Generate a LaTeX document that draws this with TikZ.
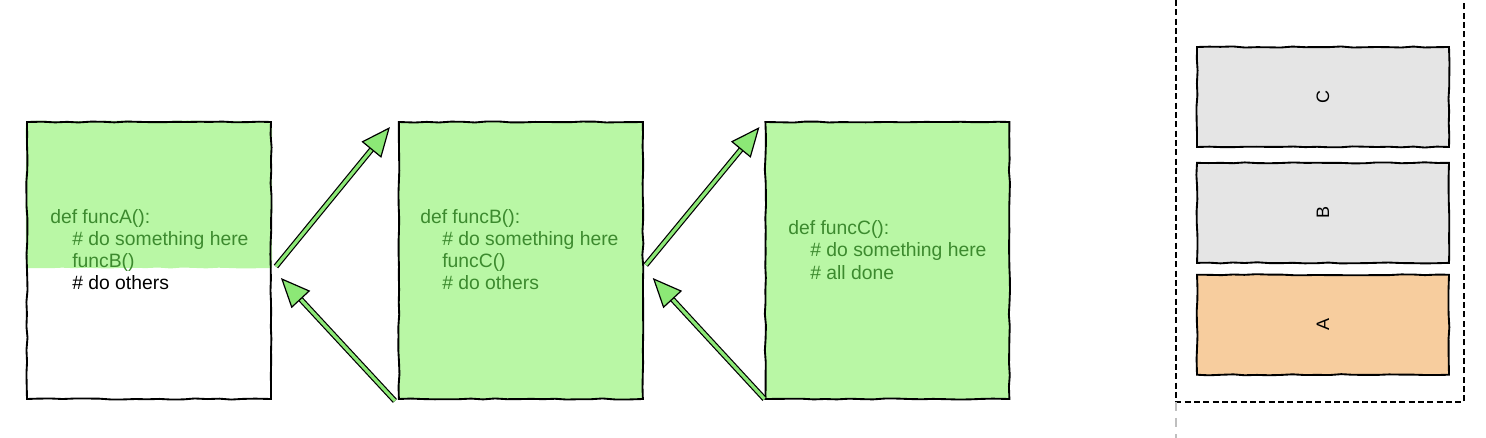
\documentclass[tikz,border=0pt]{standalone}
\usepackage{fontspec}
\setmainfont{Liberation Sans}
\usetikzlibrary{positioning, arrows.meta, decorations.pathmorphing, backgrounds}
\definecolor{codegreen}{RGB}{185,247,165}
\definecolor{arrowgreen}{RGB}{140,232,118}
\definecolor{textgreen}{RGB}{60,138,46}
\definecolor{stackgray}{RGB}{229,229,229}
\definecolor{stackorange}{RGB}{247,205,158}
\tikzset{
x=0.75pt, y=-0.75pt, % one unit is one pixel, y grows downwards
sketch/.style={decorate, decoration={random steps, segment length=9pt, amplitude=0.45pt}}, % hand drawn look
frame/.style={draw, line width=1.4pt, sketch, minimum width=183pt, minimum height=207.75pt},
code/.style={anchor=west, align=left, inner sep=0pt, text=textgreen, font=\fontsize{14.5}{16.7}\selectfont},
callarrow/.style={draw=black, double=arrowgreen, double distance=2.4pt, line width=0.9pt, -{Triangle[length=22pt, width=19pt, fill=arrowgreen]}},
stackbox/.style={draw, line width=1.4pt, sketch, minimum width=189pt, minimum height=75pt, font=\fontsize{13.5}{16}\selectfont},
}

\begin{document}
\begin{tikzpicture}
    \useasboundingbox (0,0) rectangle (1486,438);
    % the three frames
    \node[frame] (boxA) at (149,260.5) {};
    \node[frame, fill=codegreen, right=94.5pt of boxA] (boxB) {};
    \node[frame, fill=codegreen, right=90.5pt of boxB] (boxC) {};
    \coordinate (splitA) at (0,268);
    \begin{scope}[on background layer]
        \fill[codegreen, sketch] (boxA.north west) rectangle (boxA.east |- splitA);
    \end{scope}
    % the code
    \node[code] (codeA) at (50,249.5) {def funcA():\\ \hspace*{16.5pt}\# do something here\\ \hspace*{16.5pt}funcB()\\ \hspace*{16.5pt}\textcolor{black}{\# do others}};
    \node[code] (codeB) at (420,249.5) {def funcB():\\ \hspace*{16.5pt}\# do something here\\ \hspace*{16.5pt}funcC()\\ \hspace*{16.5pt}\# do others};
    \node[code] (codeC) at (788,250) {def funcC():\\ \hspace*{16.5pt}\# do something here\\ \hspace*{16.5pt}\# all done};
    % calls and returns
    \draw[callarrow] ([shift={(4,6)}]boxA.east) -- ([shift={(-8,6)}]boxB.north west);
    \draw[callarrow] ([shift={(-3,1)}]boxB.south west) -- ([shift={(9,17.5)}]boxA.east);
    \draw[callarrow] ([shift={(2,4.5)}]boxB.east) -- ([shift={(-5,6)}]boxC.north west);
    \draw[callarrow] ([shift={(0,-1)}]boxC.south west) -- ([shift={(9,17.5)}]boxB.east);
    % the stack
    \draw[line width=1.4pt, dashed, dash pattern=on 4.5pt off 2.5pt] (1176,0) -- (1176,402) -- (1464,402) -- (1464,0);
    \draw[line width=1.5pt, gray!50, dash pattern=on 7pt off 5pt] (1176,402) -- (1176,438);
    \node[stackbox, fill=stackgray] (stackC) at (1323,97) {\rotatebox{90}{C}};
    \node[stackbox, fill=stackgray, below=10.5pt of stackC] (stackB) {\rotatebox{90}{B}};
    \node[stackbox, fill=stackorange, below=7.5pt of stackB] (stackA) {\rotatebox{90}{A}};
\end{tikzpicture}
\end{document}
